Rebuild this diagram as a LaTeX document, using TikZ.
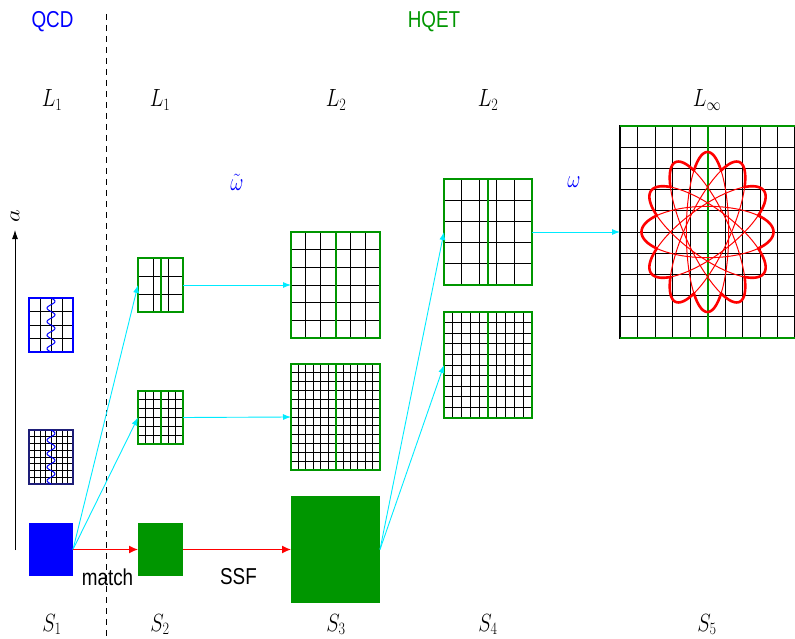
\documentclass[tikz,border=0pt]{standalone}
\usepackage{fontspec}
\setsansfont{Liberation Sans}
\usetikzlibrary{arrows.meta}
\definecolor{hgreen}{RGB}{0,150,0}
\definecolor{arrcyan}{RGB}{0,235,255}
\definecolor{navy}{RGB}{30,30,120}
\newcommand\lattice[8]{% name, x0, y0, w, h, ncols, nrows, border colour
  \foreach \k in {1,...,#6}{\draw[gl] ({#2+\k*#4/#6},#3) -- ++(0,#5);}
  \foreach \k in {1,...,#7}{\draw[gl] (#2,{#3+\k*#5/#7}) -- ++(#4,0);}
  \node[draw=#8, line width=1.3pt, inner sep=0pt, outer sep=0pt, minimum width=#4pt, minimum height=#5pt, anchor=north west] (#1) at (#2,#3) {};
}
\begin{document}
\begin{tikzpicture}[x=1pt,y=-1pt,
  lbl/.style={font=\fontsize{23.5}{28}\selectfont, xscale=0.82, inner sep=0pt},
  sf/.style={font=\sffamily\fontsize{23}{27}\selectfont, xscale=0.82, inner sep=0pt},
  gl/.style={black, line width=0.8pt},
  mid/.style={hgreen, line width=2pt},
  carr/.style={arrcyan, line width=0.9pt, -{Latex[length=8pt,width=6pt]}},
  rarr/.style={red, line width=1.2pt, -{Latex[length=9pt,width=8pt]}},
  box/.style={inner sep=0pt, outer sep=0pt, anchor=north west},
]
\useasboundingbox (0,0) rectangle (795,639);

% headings
\node[sf, text=blue] (qcd) at (52.5,21.5) {QCD};
\node[sf, text=hgreen] (hqet) at (434,21.5) {HQET};
\coordinate (dtop) at (106,14);
\coordinate (dbot) at (106,639);
\draw[line width=0.8pt, dash pattern=on 6pt off 5pt] (dtop) -- (dbot);

% L and S labels
\node[lbl, anchor=base] (l1a) at (52,107) {$L_1$};
\node[lbl, anchor=base] (l1b) at (160,107) {$L_1$};
\node[lbl, anchor=base] (l2a) at (336,107) {$L_2$};
\node[lbl, anchor=base] (l2b) at (488,107) {$L_2$};
\node[lbl, anchor=base] (linf) at (707,107) {$L_\infty$};
\node[lbl, anchor=base] (s1l) at (52,631) {$S_1$};
\node[lbl, anchor=base] (s2l) at (160,631) {$S_2$};
\node[lbl, anchor=base] (s3l) at (336,631) {$S_3$};
\node[lbl, anchor=base] (s4l) at (488,631) {$S_4$};
\node[lbl, anchor=base] (s5l) at (707,631) {$S_5$};

\node[lbl, anchor=base, text=blue] (wt) at (237,191) {$\tilde\omega$};
\node[lbl, anchor=base, text=blue] (w) at (574,188) {$\omega$};

% axis
\coordinate (abot) at (15,550);
\coordinate (atop) at (15,230);
\draw[line width=0.8pt, -{Latex[length=9pt,width=6pt]}] (abot) -- (atop);
\node[lbl, rotate=90] (alab) at (15,216) {$a$};

% QCD lattices
\lattice{q1}{29}{298}{44}{54}{4}{4}{blue}
\draw[blue, line width=1pt, domain=0:54, samples=120, smooth, variable=\t] plot ({51+4*sin(\t/54*4*360)},{298+\t});
\lattice{q2}{29}{430}{44}{54}{8}{8}{navy}
\draw[blue, line width=1pt, domain=0:54, samples=120, smooth, variable=\t] plot ({51+4*sin(\t/54*4*360)},{430+\t});

% S2 lattices
\lattice{a1}{138}{258}{45}{54}{3}{3}{hgreen}
\draw[mid] (a1.north) -- (a1.south);
\lattice{a2}{138}{391}{45}{53}{6}{6}{hgreen}
\draw[mid] (a2.north) -- (a2.south);

% S3 lattices
\lattice{b1}{291}{232}{89}{106}{6}{6}{hgreen}
\draw[mid] (b1.north) -- (b1.south);
\lattice{b2}{291}{364}{89}{106}{12}{12}{hgreen}
\draw[mid] (b2.north) -- (b2.south);

% S4 lattices
\lattice{c1}{444}{179}{88}{106}{5}{5}{hgreen}
\draw[mid] (c1.north) -- (c1.south);
\lattice{c2}{444}{312}{88}{106}{10}{10}{hgreen}
\draw[mid] (c2.north) -- (c2.south);

% S5 lattice
\lattice{d1}{620}{126}{175}{212}{10}{10}{black}
\draw[mid] (d1.north) -- (d1.south);
\draw[hgreen, line width=1.5pt] (d1.north west) -- (d1.north east);
\draw[hgreen, line width=1.5pt] (d1.south west) -- (d1.south east);

% ellipses
\begin{scope}[shift={(707.5,232)}, xscale=0.825]
  \foreach \r in {0,30,...,150}{
    \draw[red, line width=1pt, rotate=\r] (0,0) ellipse [x radius=80, y radius=25.7];
    \draw[red, line width=2.6pt, line cap=round, rotate=\r, domain=-40:40, samples=40, smooth, variable=\t] plot ({80*cos(\t)},{25.7*sin(\t)});
    \draw[red, line width=2.6pt, line cap=round, rotate=\r, domain=140:220, samples=40, smooth, variable=\t] plot ({80*cos(\t)},{25.7*sin(\t)});
  }
\end{scope}

% solid boxes
\node[box, fill=blue, minimum width=44pt, minimum height=53pt] (s1) at (29,523) {};
\node[box, fill=hgreen, minimum width=45pt, minimum height=53pt] (s2) at (138,523) {};
\node[box, fill=hgreen, minimum width=89pt, minimum height=107pt] (s3) at (291,496) {};

% arrows
\draw[carr] (s1.east) -- (a1.west);
\draw[carr] (s1.east) -- (a2.west);
\draw[carr] (a1.east) -- (b1.west);
\draw[carr] (a2.east) -- (b2.west);
\draw[carr] (s3.east) -- (c1.west);
\draw[carr] (s3.east) -- (c2.west);
\draw[carr] (c1.east) -- (d1.west);
\draw[rarr] (s1.east) -- (s2.west);
\draw[rarr] (s2.east) -- (s3.west);

\node[sf, anchor=base] (match) at (107.5,585) {match};
\node[sf, anchor=base] (ssf) at (238.5,584) {SSF};
\end{tikzpicture}
\end{document}
